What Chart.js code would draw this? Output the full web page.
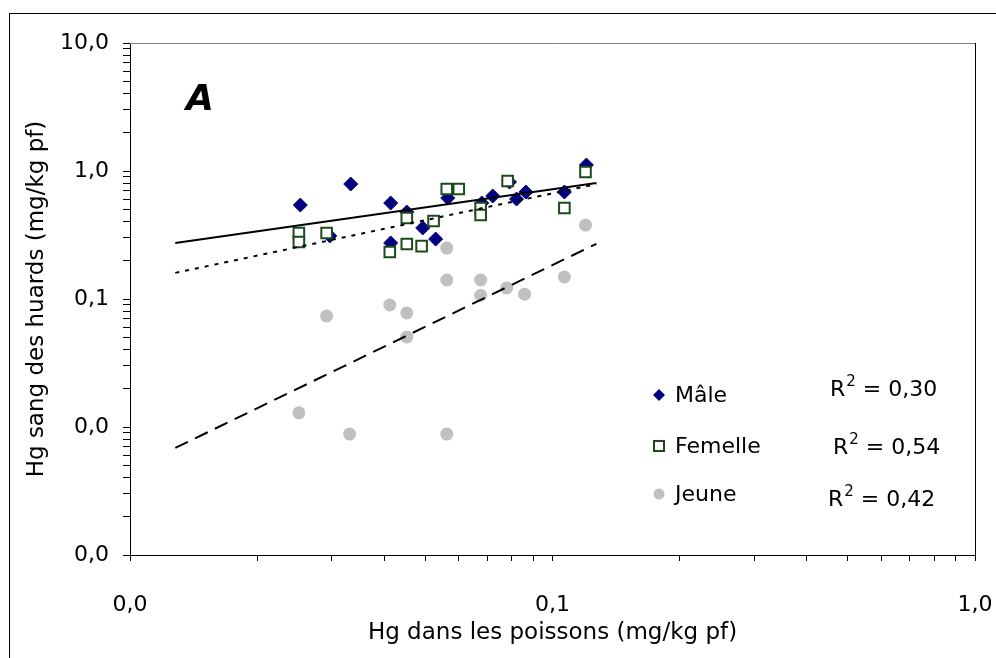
<!DOCTYPE html>
<html>
<head>
<meta charset="utf-8">
<script src="https://cdn.jsdelivr.net/npm/chart.js@4.4.1/dist/chart.umd.min.js"></script>
<style>
  html, body { margin: 0; padding: 0; background: #ffffff; }
  #wrap { width: 996px; height: 658px; position: relative; }
</style>
</head>
<body>
<div id="wrap"><canvas id="chart" width="996" height="658"></canvas></div>
<script>
// Hg in fish (x) vs Hg in loon blood (y), mg/kg wet weight
const maleX = [0.0253, 0.0297, 0.0333, 0.0414, 0.0414, 0.0452, 0.0493, 0.0529, 0.0565, 0.0680, 0.0722, 0.0791, 0.0822, 0.0865, 0.1067, 0.1203];
const maleY = [0.542, 0.311, 0.791, 0.562, 0.274, 0.478, 0.359, 0.294, 0.615, 0.562, 0.638, 0.820, 0.604, 0.685, 0.685, 1.114];

const femelleX = [0.0251, 0.0251, 0.0292, 0.0412, 0.0452, 0.0452, 0.0490, 0.0523, 0.0562, 0.0600, 0.0676, 0.0676, 0.0783, 0.1067, 0.1197];
const femelleY = [0.328, 0.279, 0.328, 0.233, 0.429, 0.269, 0.259, 0.407, 0.724, 0.724, 0.514, 0.453, 0.836, 0.514, 0.982];

const jeuneX = [0.0251, 0.0292, 0.0331, 0.0412, 0.0452, 0.0452, 0.0562, 0.0562, 0.0562, 0.0676, 0.0676, 0.0779, 0.0859, 0.1067, 0.1197];
const jeuneY = [0.0129, 0.0736, 0.0088, 0.0898, 0.0778, 0.0505, 0.250, 0.1407, 0.0088, 0.1407, 0.107, 0.122, 0.109, 0.1485, 0.378];

// power-law trend lines (straight on log-log axes), end points
const trendX = [0.0128, 0.127];
const maleTrendY = [0.274, 0.806];
const femelleTrendY = [0.160, 0.790];
const jeuneTrendY = [0.00686, 0.270];

const seriesNames = ['Mâle', 'Femelle', 'Jeune'];
const rSquared = ['0,30', '0,54', '0,42'];

// axis decades and their labels
const xMajorTicks = [0.01, 0.1, 1];
const xTickLabels = ['0,0', '0,1', '1,0'];
const yMajorTicks = [0.001, 0.01, 0.1, 1, 10];
const yTickLabels = ['0,0', '0,0', '0,1', '1,0', '10,0'];

const FONT = "'DejaVu Sans', sans-serif";
const MALE_COLOR = '#000080';
const FEMELLE_COLOR = '#1b4a1b';
const JEUNE_COLOR = '#c0c0c0';

const pts = (xs, ys) => xs.map((x, i) => ({ x: x, y: ys[i] }));

// minor tick positions 1..9 x 10^n inside each decade
function logTicks(majors) {
  const out = [];
  for (let d = 0; d < majors.length - 1; d++) {
    for (let m = 1; m < 10; m++) out.push({ value: +(majors[d] * m).toPrecision(6) });
  }
  out.push({ value: majors[majors.length - 1] });
  return out;
}
function labelFor(majors, labels) {
  return function (value) {
    for (let i = 0; i < majors.length; i++) {
      if (Math.abs(value - majors[i]) / majors[i] < 1e-6) return labels[i];
    }
    return '';
  };
}

const overlay = {
  id: 'overlay',
  beforeDraw(chart) {
    const ctx = chart.ctx;
    ctx.save();
    ctx.fillStyle = '#ffffff';
    ctx.fillRect(0, 0, chart.width, chart.height);
    // outer frame
    ctx.strokeStyle = '#000000';
    ctx.lineWidth = 1;
    ctx.strokeRect(9.5, 13.5, chart.width + 20, chart.height + 20);
    ctx.restore();
  },
  afterDraw(chart) {
    const ctx = chart.ctx;
    const a = chart.chartArea;
    ctx.save();
    // plot frame top/right
    ctx.lineWidth = 1;
    ctx.strokeStyle = '#808080';
    ctx.beginPath();
    ctx.moveTo(a.left, a.top + 0.5);
    ctx.lineTo(a.right, a.top + 0.5);
    ctx.stroke();
    ctx.strokeStyle = '#000000';
    ctx.beginPath();
    ctx.moveTo(a.right + 0.5, a.top);
    ctx.lineTo(a.right + 0.5, a.bottom);
    ctx.stroke();

    // panel letter
    ctx.fillStyle = '#000000';
    ctx.font = "italic bold 36px " + FONT;
    ctx.textAlign = 'center';
    ctx.textBaseline = 'middle';
    ctx.fillText('A', a.left + 70, a.top + 58);

    // legend
    const lx = a.left + 529, tx = a.left + 545;
    const rows = [a.top + 352, a.top + 403, a.top + 451];
    ctx.fillStyle = MALE_COLOR;
    ctx.beginPath();
    ctx.moveTo(lx, rows[0] - 6);
    ctx.lineTo(lx + 6, rows[0]);
    ctx.lineTo(lx, rows[0] + 6);
    ctx.lineTo(lx - 6, rows[0]);
    ctx.closePath();
    ctx.fill();
    ctx.strokeStyle = FEMELLE_COLOR;
    ctx.lineWidth = 2;
    ctx.fillStyle = '#ffffff';
    ctx.fillRect(lx - 5, rows[1] - 5, 10, 10);
    ctx.strokeRect(lx - 5, rows[1] - 5, 10, 10);
    ctx.fillStyle = JEUNE_COLOR;
    ctx.beginPath();
    ctx.arc(lx, rows[2], 5.5, 0, Math.PI * 2);
    ctx.fill();

    ctx.fillStyle = '#000000';
    ctx.font = "22px " + FONT;
    ctx.textAlign = 'left';
    ctx.textBaseline = 'middle';
    seriesNames.forEach((n, i) => ctx.fillText(n, tx, rows[i] + 1));

    // R² values
    const rPos = [[a.left + 700, a.top + 347], [a.left + 703, a.top + 405], [a.left + 698, a.top + 457]];
    rSquared.forEach((r, i) => {
      let [x, y] = rPos[i];
      ctx.font = "22px " + FONT;
      ctx.fillText('R', x, y);
      x += ctx.measureText('R').width + 1;
      ctx.font = "15px " + FONT;
      ctx.fillText('2', x, y - 8);
      x += ctx.measureText('2').width;
      ctx.font = "22px " + FONT;
      ctx.fillText(' = ' + r, x, y);
    });
    ctx.restore();
  }
};

new Chart(document.getElementById('chart'), {
  type: 'scatter',
  data: {
    datasets: [
      { type: 'line', label: 'Mâle tendance', data: pts(trendX, maleTrendY), borderColor: '#000000', borderWidth: 2, pointRadius: 0, fill: false },
      { type: 'line', label: 'Femelle tendance', data: pts(trendX, femelleTrendY), borderColor: '#000000', borderWidth: 2, borderDash: [4, 6], pointRadius: 0, fill: false },
      { type: 'line', label: 'Jeune tendance', data: pts(trendX, jeuneTrendY), borderColor: '#000000', borderWidth: 2, borderDash: [14, 8], pointRadius: 0, fill: false },
      { label: seriesNames[1], data: pts(femelleX, femelleY), pointStyle: 'rect', pointRadius: 7.5, backgroundColor: '#ffffff', borderColor: FEMELLE_COLOR, borderWidth: 2 },
      { label: seriesNames[0], data: pts(maleX, maleY), pointStyle: 'rectRot', pointRadius: 7, backgroundColor: MALE_COLOR, borderColor: MALE_COLOR, borderWidth: 1 },
      { label: seriesNames[2], data: pts(jeuneX, jeuneY), pointStyle: 'circle', pointRadius: 6.5, backgroundColor: JEUNE_COLOR, borderColor: JEUNE_COLOR, borderWidth: 0 }
    ]
  },
  options: {
    responsive: false,
    animation: false,
    events: [],
    layout: { padding: { top: 43, right: 21, left: 0, bottom: 0 } },
    plugins: { legend: { display: false }, tooltip: { enabled: false } },
    scales: {
      x: {
        type: 'logarithmic',
        min: 0.01, max: 1,
        afterBuildTicks: (s) => { s.ticks = logTicks(xMajorTicks); },
        afterFit: (s) => { s.height = 103; s.paddingLeft = 0; s.paddingRight = 0; },
        border: { display: true, color: '#000000', width: 1 },
        grid: { drawOnChartArea: false, drawTicks: true, tickLength: 6, tickColor: '#000000' },
        ticks: { autoSkip: false, maxRotation: 0, padding: 31, color: '#000000', font: { family: FONT, size: 22 }, callback: labelFor(xMajorTicks, xTickLabels) },
        title: { display: true, text: 'Hg dans les poissons (mg/kg pf)', color: '#000000', font: { family: FONT, size: 23 }, padding: { top: 0, bottom: 11 } }
      },
      y: {
        type: 'logarithmic',
        min: 0.001, max: 10,
        afterBuildTicks: (s) => { s.ticks = logTicks(yMajorTicks); },
        afterFit: (s) => { s.width = 130; s.paddingTop = 0; s.paddingBottom = 0; },
        border: { display: true, color: '#000000', width: 1 },
        grid: { drawOnChartArea: false, drawTicks: true, tickLength: 7, tickColor: '#000000' },
        ticks: { autoSkip: false, padding: 14, color: '#000000', font: { family: FONT, size: 22 }, callback: labelFor(yMajorTicks, yTickLabels) },
        title: { display: true, text: 'Hg sang des huards (mg/kg pf)', color: '#000000', font: { family: FONT, size: 23 }, padding: { top: 23, bottom: 0 } }
      }
    }
  },
  plugins: [overlay]
});
</script>
</body>
</html>
